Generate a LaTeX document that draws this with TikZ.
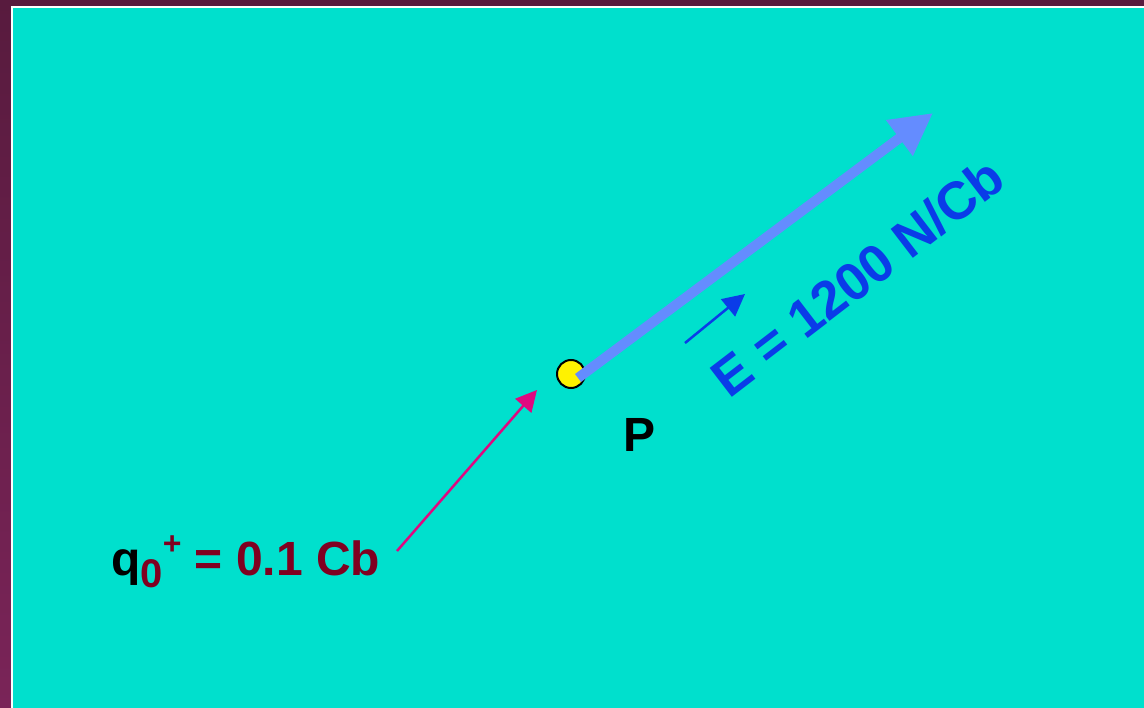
\documentclass[tikz,border=0pt]{standalone}
\usepackage{fontspec}
\setmainfont{Liberation Sans}
\usetikzlibrary{arrows.meta,positioning}
\definecolor{slidebg}{RGB}{0,224,205}
\definecolor{framedark}{RGB}{88,27,62}
\definecolor{framelow}{RGB}{122,36,88}
\definecolor{fieldblue}{RGB}{100,140,255}
\definecolor{labelblue}{RGB}{10,60,232}
\definecolor{chargered}{RGB}{128,0,32}
\definecolor{chargepink}{RGB}{224,8,128}

\begin{document}
\begin{tikzpicture}[x=1pt,y=-1pt,
  bigtxt/.style={font=\fontsize{48}{52}\selectfont\bfseries, inner sep=0pt},
  fieldarr/.style={-{Triangle[length=42pt,width=42pt]}, line width=10pt, fieldblue},
  unitarr/.style={-{Triangle[length=22pt,width=22pt]}, line width=2.5pt, labelblue},
  chargearr/.style={-{Triangle[length=21pt,width=21pt]}, line width=2.5pt, chargepink},
  point/.style={circle, draw=black, line width=2pt, fill=yellow,
                minimum size=28pt, inner sep=0pt}
]

% frame and slide
\shade[top color=framedark, bottom color=framelow] (0,0) rectangle (1144,708);
\fill[white] (11,6) rectangle (1144,708);
\fill[slidebg] (13,8) rectangle (1144,708);
\useasboundingbox (0,0) rectangle (1144,708);

% field vector at P
\coordinate (etip)  at (933,113);
\coordinate (ustart) at (685,343);
\coordinate (utip)  at (745,294);
\coordinate (qstart) at (397,551);
\coordinate (qtip)  at (537,390);

\node[point] (pt) at (571,374) {};
\draw[fieldarr] (578,378) -- (etip);
\node[bigtxt, anchor=base] (plab) at (640,452) {P};

\draw[unitarr] (ustart) -- (utip);
\node[bigtxt, font=\fontsize{53}{56}\selectfont\bfseries, labelblue, rotate=37.5, anchor=base]
  (elab) at (869,292) {E = 1200 N/Cb};

% test charge
\draw[chargearr] (qstart) -- (qtip);
\node[bigtxt, anchor=base west, chargered] (qlab) at (111,576)
  {\textcolor{black}{q}\raisebox{-0.25em}{\fontsize{40}{42}\selectfont 0}\raisebox{0.45em}{\fontsize{32}{34}\selectfont +} = 0.1 Cb};

\end{tikzpicture}
\end{document}
